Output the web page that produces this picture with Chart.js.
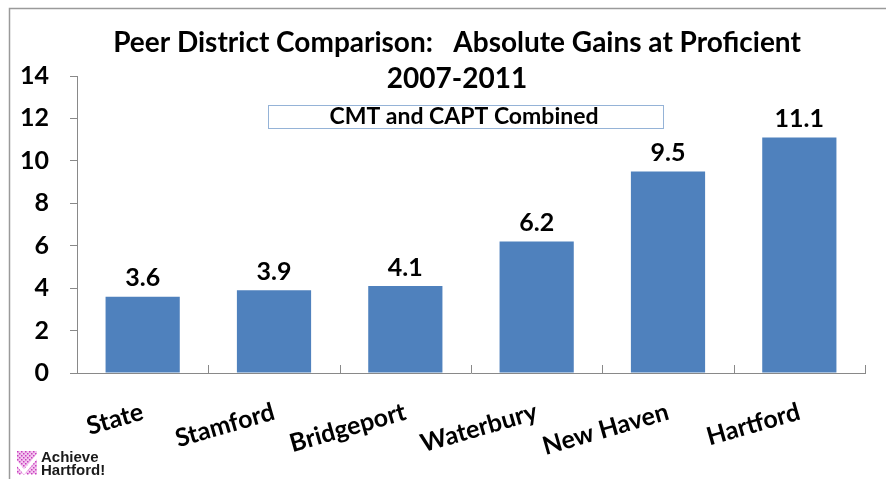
<!DOCTYPE html>
<html>
<head>
<meta charset="utf-8">
<script src="https://cdn.jsdelivr.net/npm/chart.js@4/dist/chart.umd.min.js"></script>
<style>
    html, body { margin: 0; padding: 0; background: #fff; }
    #wrap { width: 886px; height: 479px; position: relative; }
</style>
</head>
<body>
<div id="wrap"><canvas id="gainChart"></canvas></div>
<script>
// data
const districts = ['State', 'Stamford', 'Bridgeport', 'Waterbury', 'New Haven', 'Hartford'];
const gains = [3.6, 3.9, 4.1, 6.2, 9.5, 11.1];
const yTicks = [0, 2, 4, 6, 8, 10, 12, 14];

const titleLines = ['Peer District Comparison:   Absolute Gains at Proficient', '2007-2011'];
const subTitle = 'CMT and CAPT Combined';

const FONT = 'Lato, "Open Sans", sans-serif';
const barBlue = '#4F81BD';
const axisGray = '#898989';

// frame, title, subtitle box and logo
const decorPlugin = {
    id: 'decor',
    beforeDraw(chart) {
        const ctx = chart.ctx;
        ctx.save();
        ctx.strokeStyle = '#9a9a9a';
        ctx.lineWidth = 1.5;
        ctx.beginPath();
        ctx.moveTo(9.5, 479);
        ctx.lineTo(9.5, 8.5);
        ctx.lineTo(886, 8.5);
        ctx.stroke();
        ctx.restore();
    },
    afterDraw(chart) {
        const ctx = chart.ctx;
        ctx.save();
        ctx.fillStyle = '#000';
        ctx.textAlign = 'center';
        ctx.textBaseline = 'middle';
        ctx.font = 'bold 28px ' + FONT;
        ctx.fillText(titleLines[0], 457, 43);
        ctx.fillText(titleLines[1], 457, 79);

        // subtitle box
        ctx.strokeStyle = '#95B3D7';
        ctx.lineWidth = 1;
        ctx.strokeRect(268.5, 105.5, 395, 23);
        ctx.font = 'bold 23px ' + FONT;
        ctx.fillText(subTitle, 464, 117);

        // logo
        const lx = 17, ly = 451;
        ctx.fillStyle = '#f3c6ee';
        ctx.fillRect(lx, ly, 20, 23);
        ctx.fillStyle = '#c83fbf';
        for (let i = 0; i < 10; i++) {
            for (let j = 0; j < 12; j++) {
                if ((i + j) % 2 === 0) ctx.fillRect(lx + i * 2, ly + j * 2, 1.5, 1.5);
            }
        }
        ctx.strokeStyle = '#fff';
        ctx.lineWidth = 3.5;
        ctx.beginPath();
        ctx.moveTo(lx - 1, ly + 11);
        ctx.lineTo(lx + 7, ly + 21);
        ctx.lineTo(lx + 22, ly + 3);
        ctx.stroke();
        ctx.fillStyle = '#1a1a1a';
        ctx.textAlign = 'left';
        ctx.textBaseline = 'alphabetic';
        ctx.font = 'bold 15px "Liberation Sans", Arial, sans-serif';
        ctx.fillText('Achieve', 41, 462);
        ctx.fillText('Hartford!', 41, 475);
        ctx.restore();
    }
};

// inward tick marks on the category axis and value labels over the bars
const barExtras = {
    id: 'barExtras',
    afterDatasetsDraw(chart) {
        const ctx = chart.ctx;
        const xs = chart.scales.x;
        const bottom = chart.chartArea.bottom;
        ctx.save();
        ctx.strokeStyle = axisGray;
        ctx.lineWidth = 1;
        const step = (xs.right - xs.left) / districts.length;
        for (let i = 0; i <= districts.length; i++) {
            const x = Math.round(xs.left + i * step) + 0.5;
            ctx.beginPath();
            ctx.moveTo(x, bottom);
            ctx.lineTo(x, bottom - 8);
            ctx.stroke();
        }
        ctx.fillStyle = '#000';
        ctx.font = 'bold 25px ' + FONT;
        ctx.textAlign = 'center';
        ctx.textBaseline = 'bottom';
        chart.getDatasetMeta(0).data.forEach((bar, i) => {
            ctx.fillText(gains[i].toFixed(1), bar.x, bar.y - 6);
        });
        ctx.restore();
    }
};

new Chart(document.getElementById('gainChart'), {
    type: 'bar',
    data: {
        labels: districts,
        datasets: [{
            data: gains,
            backgroundColor: barBlue,
            borderWidth: 0,
            categoryPercentage: 0.565,
            barPercentage: 1
        }]
    },
    options: {
        responsive: true,
        maintainAspectRatio: false,
        animation: false,
        layout: { padding: { top: 76, right: 21, left: 0, bottom: 0 } },
        plugins: {
            legend: { display: false },
            title: { display: false },
            tooltip: { enabled: false }
        },
        scales: {
            x: {
                grid: { display: false },
                border: { color: axisGray, width: 1 },
                ticks: {
                    color: '#000',
                    font: { family: FONT, weight: 'bold', size: 25 },
                    maxRotation: 16,
                    minRotation: 16,
                    padding: 16
                },
                afterFit(scale) { scale.height = 106; }
            },
            y: {
                min: 0,
                max: 14,
                afterBuildTicks(scale) { scale.ticks = yTicks.map(v => ({ value: v })); },
                grid: { drawOnChartArea: false, tickLength: 7, color: axisGray },
                border: { color: axisGray, width: 1 },
                ticks: {
                    color: '#000',
                    font: { family: FONT, weight: 'bold', size: 25 },
                    padding: 21
                },
                afterFit(scale) { scale.width = 77; }
            }
        }
    },
    plugins: [decorPlugin, barExtras]
});
</script>
</body>
</html>
